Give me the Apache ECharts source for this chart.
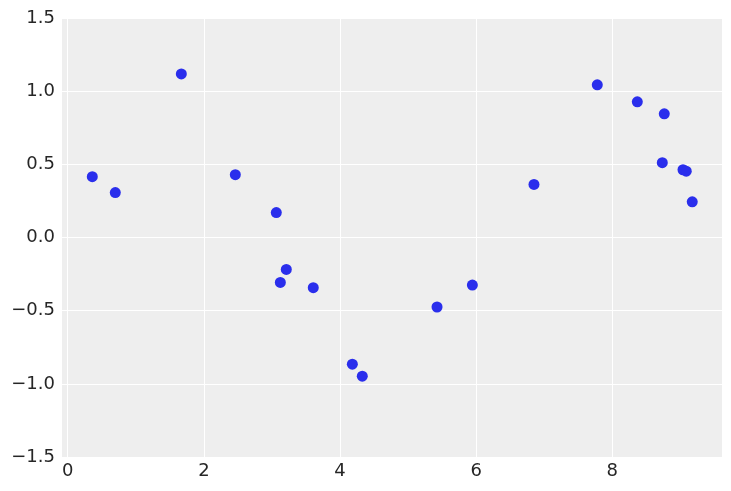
<!DOCTYPE html>
<html><head><meta charset="utf-8">
<script src="https://cdn.jsdelivr.net/npm/echarts@6/dist/echarts.min.js"></script>
<style>html,body{margin:0;padding:0;background:#fff}#c{width:731px;height:491px}</style>
</head><body><div id="c"></div>
<script>
const xValues = [0.361, 0.699, 1.669, 2.462, 3.064, 3.123, 3.211, 3.607, 4.181, 4.327, 5.425, 5.944, 6.849, 7.779, 8.367, 8.763, 8.734, 9.038, 9.086, 9.174];
const yValues = [0.416, 0.307, 1.118, 0.429, 0.170, -0.307, -0.218, -0.343, -0.866, -0.948, -0.475, -0.325, 0.363, 1.043, 0.927, 0.845, 0.511, 0.463, 0.453, 0.244];
const xTicks = [0, 2, 4, 6, 8];
const yTicks = [-1.5, -1.0, -0.5, 0.0, 0.5, 1.0, 1.5];

const fmt = v => String(v).replace('-', '\u2212');
const chart = echarts.init(document.getElementById('c'), null, {renderer: 'canvas'});
const txt = {color: '#262626', fontSize: 18, fontFamily: 'DejaVu Sans'};
chart.setOption({
  animation: false,
  grid: {left: 62, right: 9, top: 18, bottom: 34, show: true, backgroundColor: '#eeeeee', borderWidth: 0},
  xAxis: {
    type: 'value', min: -0.084, max: 9.611,
    axisLine: {show: false}, axisTick: {show: false, customValues: xTicks},
    axisLabel: Object.assign({customValues: xTicks, margin: 5, formatter: v => fmt(v)}, txt),
    splitLine: {show: true, lineStyle: {color: '#ffffff', width: 1}}
  },
  yAxis: {
    type: 'value', min: -1.5, max: 1.5, interval: 0.5,
    axisLine: {show: false}, axisTick: {show: false, customValues: yTicks},
    axisLabel: Object.assign({customValues: yTicks, margin: 7, formatter: v => fmt(v.toFixed(1))}, txt),
    splitLine: {show: true, lineStyle: {color: '#ffffff', width: 1}}
  },
  series: [{
    type: 'scatter', symbolSize: 11,
    itemStyle: {color: '#2a2eec', opacity: 1},
    data: xValues.map((x, i) => [x, yValues[i]])
  }]
});
</script></body></html>
